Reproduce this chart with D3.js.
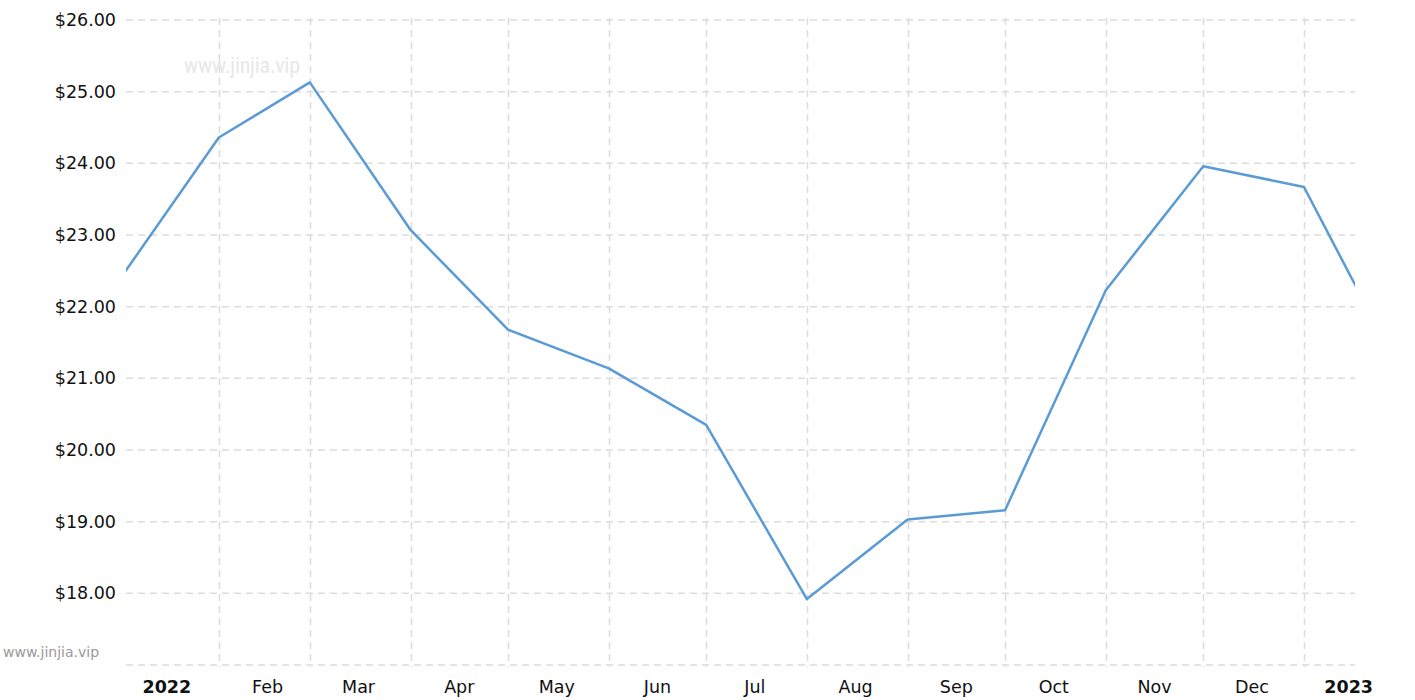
<!DOCTYPE html>
<html>
<head>
<meta charset="utf-8">
<script src="https://cdn.jsdelivr.net/npm/d3@7"></script>
<style>
  body { margin: 0; background: #fff; }
  svg { display: block; font-family: 'DejaVu Sans', Verdana, sans-serif; }
</style>
</head>
<body>
<svg id="chart" width="1415" height="700"></svg>
<script>
const width = 1415
const height = 700
const margin = { top: 20, left: 126, bottom: 35, right: 60 }

// monthly values (first of month)
const months = ['2022-01-01', '2022-02-01', '2022-03-01', '2022-04-01', '2022-05-01', '2022-06-01',
  '2022-07-01', '2022-08-01', '2022-09-01', '2022-10-01', '2022-11-01', '2022-12-01',
  '2023-01-01', '2023-02-01']
const prices = [22.35, 24.36, 25.13, 23.07, 21.68, 21.14, 20.35, 17.92, 19.03, 19.16, 22.23, 23.96, 23.67, 20.98]
const yTicks = [18, 19, 20, 21, 22, 23, 24, 25, 26]
const yGrid = [17, 18, 19, 20, 21, 22, 23, 24, 25, 26]

const parse = d3.timeParse('%Y-%m-%d')
const data = months.map((m, i) => ({ date: parse(m), value: prices[i] }))

const svg = d3.select('#chart')

const x = d3.scaleTime()
  .domain([new Date(2022, 0, 3, 10), new Date(2023, 0, 16, 17)])
  .range([margin.left, width - margin.right])

const y = d3.scaleLinear()
  .domain([17, 26])
  .range([height - margin.bottom, margin.top])

const gridColor = '#dcdcdc'

// horizontal grid
svg.append('g')
  .selectAll('line')
  .data(yGrid)
  .join('line')
  .attr('x1', margin.left)
  .attr('x2', width - margin.right)
  .attr('y1', d => y(d))
  .attr('y2', d => y(d))
  .attr('stroke', gridColor)
  .attr('stroke-width', 1.5)
  .attr('stroke-dasharray', '7,5')

// vertical grid at month starts
const monthStarts = d3.timeMonth.range(new Date(2022, 1, 1), new Date(2023, 0, 2))
svg.append('g')
  .selectAll('line')
  .data(monthStarts)
  .join('line')
  .attr('x1', d => Math.round(x(d)) + 0.5)
  .attr('x2', d => Math.round(x(d)) + 0.5)
  .attr('y1', margin.top - 2)
  .attr('y2', height - margin.bottom + 2)
  .attr('stroke', gridColor)
  .attr('stroke-width', 1.5)
  .attr('stroke-dasharray', '7,5')

// watermark inside plot
svg.append('text')
  .attr('x', 242)
  .attr('y', 73)
  .attr('text-anchor', 'middle')
  .attr('font-family', "'Roboto Condensed', 'Liberation Sans Narrow', Roboto, sans-serif")
  .attr('font-size', 22)
  .attr('fill', '#e8e8e8')
  .attr('textLength', 116)
  .text('www.jinjia.vip')

// y labels
svg.append('g')
  .selectAll('text')
  .data(yTicks)
  .join('text')
  .attr('x', 116)
  .attr('y', d => y(d))
  .attr('dy', '0.35em')
  .attr('text-anchor', 'end')
  .attr('font-size', 17.5)
  .attr('fill', '#111')
  .text(d => d3.format('$.2f')(d))

// bottom-left watermark
svg.append('text')
  .attr('x', 3)
  .attr('y', y(17) - 8)
  .attr('font-size', 14)
  .attr('fill', '#999')
  .text('www.jinjia.vip')

// x labels at mid-month
const labelMonths = d3.timeMonth.range(new Date(2022, 0, 1), new Date(2023, 0, 2))
svg.append('g')
  .selectAll('text')
  .data(labelMonths)
  .join('text')
  .attr('x', d => x(d3.timeDay.offset(d, 15)) - (d.getFullYear() === 2023 ? 4 : 0))
  .attr('y', 693)
  .attr('text-anchor', 'middle')
  .attr('font-size', 17.5)
  .attr('font-weight', d => d.getMonth() === 0 ? 'bold' : 'normal')
  .attr('fill', '#111')
  .text(d => d.getMonth() === 0 ? d3.timeFormat('%Y')(d) : d3.timeFormat('%b')(d))

// clip + line
svg.append('clipPath')
  .attr('id', 'plotClip')
  .append('rect')
  .attr('x', margin.left)
  .attr('y', 0)
  .attr('width', width - margin.left - margin.right)
  .attr('height', height - margin.bottom)

const line = d3.line()
  .x(d => x(d.date))
  .y(d => y(d.value))

svg.append('path')
  .datum(data)
  .attr('clip-path', 'url(#plotClip)')
  .attr('fill', 'none')
  .attr('stroke', '#5b9bd5')
  .attr('stroke-width', 2.5)
  .attr('stroke-linejoin', 'round')
  .attr('d', line)
</script>
</body>
</html>
